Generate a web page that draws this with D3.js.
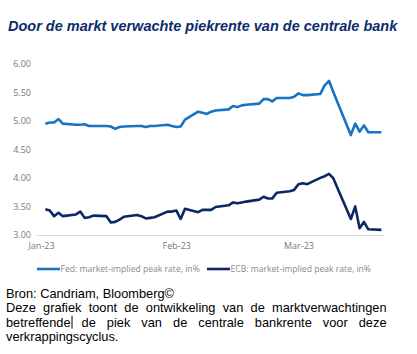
<!DOCTYPE html>
<html>
<head>
<meta charset="utf-8">
<script src="https://cdn.jsdelivr.net/npm/d3@7"></script>
<style>
  html, body { margin: 0; padding: 0; background: #fff; }
  svg { display: block; }
</style>
</head>
<body>
<div id="chart"></div>
<script>
// business days, 2 Jan - 20 Mar 2023
const dates = [
  "2023-01-02","2023-01-03","2023-01-04","2023-01-05","2023-01-06",
  "2023-01-09","2023-01-10","2023-01-11","2023-01-12","2023-01-13",
  "2023-01-16","2023-01-17","2023-01-18","2023-01-19","2023-01-20",
  "2023-01-23","2023-01-24","2023-01-25","2023-01-26","2023-01-27",
  "2023-01-30","2023-01-31","2023-02-01","2023-02-02","2023-02-03",
  "2023-02-06","2023-02-07","2023-02-08","2023-02-09","2023-02-10",
  "2023-02-13","2023-02-14","2023-02-15","2023-02-16","2023-02-17",
  "2023-02-20","2023-02-21","2023-02-22","2023-02-23","2023-02-24",
  "2023-02-27","2023-02-28","2023-03-01","2023-03-02","2023-03-03",
  "2023-03-06","2023-03-07","2023-03-08","2023-03-09","2023-03-10",
  "2023-03-13","2023-03-14","2023-03-15","2023-03-16","2023-03-17",
  "2023-03-20"
];

const fedRate = [
  4.95, 4.97, 4.97, 5.03, 4.95,
  4.93, 4.93, 4.94, 4.91, 4.91,
  4.91, 4.90, 4.86, 4.89, 4.90,
  4.91, 4.91, 4.89, 4.91, 4.91,
  4.93, 4.91, 4.89, 4.90, 5.02,
  5.16, 5.14, 5.12, 5.16, 5.18,
  5.20, 5.26, 5.24, 5.27, 5.28,
  5.30, 5.38, 5.38, 5.34, 5.40,
  5.40, 5.42, 5.48, 5.45, 5.45,
  5.47, 5.62, 5.70, 5.50, 5.31,
  4.75, 4.95, 4.81, 4.92, 4.80,
  4.80
];

const ecbRate = [
  3.45, 3.43, 3.33, 3.39, 3.33,
  3.36, 3.41, 3.30, 3.31, 3.34,
  3.33, 3.22, 3.23, 3.27, 3.32,
  3.35, 3.33, 3.29, 3.30, 3.31,
  3.41, 3.41, 3.43, 3.28, 3.46,
  3.40, 3.44, 3.44, 3.44, 3.49,
  3.52, 3.57, 3.555, 3.57, 3.585,
  3.62, 3.67, 3.64, 3.64, 3.74,
  3.765, 3.79, 3.89, 3.905, 3.89,
  4.00, 4.03, 4.07, 3.99, 3.81,
  3.28, 3.50, 3.12, 3.23, 3.10,
  3.09
];

const yTicks = [3, 3.5, 4, 4.5, 5, 5.5, 6];
const xTicks = ["2023-01-01", "2023-02-01", "2023-03-01"];

const seriesNames = ["Fed: market-implied peak rate, in%", "ECB: market-implied peak rate, in%"];
const seriesColors = ["#1874c1", "#0b2866"];

const title = "Door de markt verwachte piekrente van de centrale bank";
const sourceLine = "Bron: Candriam, Bloomberg©";
const noteLines = [
  "Deze grafiek toont de ontwikkeling van de marktverwachtingen",
  "betreffende de piek van de centrale bankrente voor deze",
  "verkrappingscyclus."
];

const W = 417, H = 354;
const parse = d3.timeParse("%Y-%m-%d");

const svg = d3.select("#chart").append("svg")
  .attr("width", W).attr("height", H)
  .style("font-family", "'Liberation Sans', Arial, sans-serif");

svg.append("rect").attr("width", W).attr("height", H).attr("fill", "#fff");

// title
svg.append("text")
  .attr("x", 8).attr("y", 31)
  .attr("fill", "#0d2c6c")
  .style("font-size", "14.5px")
  .style("font-weight", "bold")
  .style("font-style", "italic")
  .text(title);

// scales
const x = d3.scaleTime()
  .domain([parse("2023-01-01"), parse("2023-03-20")])
  .range([41, 381.4]);

const y = d3.scaleLinear()
  .domain([3, 6])
  .range([235, 63.7]);

const axisFont = "'Open Sans', 'Noto Sans', sans-serif";

// y axis (labels only)
const gy = svg.append("g")
  .attr("transform", "translate(33,0)")
  .call(d3.axisLeft(y).tickValues(yTicks).tickFormat(d3.format(".2f")).tickSize(0).tickPadding(2));
gy.select(".domain").remove();
gy.selectAll("text")
  .attr("fill", "#7a7a7a")
  .style("font-family", axisFont)
  .style("font-size", "9px");

// x axis
const gx = svg.append("g")
  .attr("transform", `translate(0,${y(3)})`)
  .call(d3.axisBottom(x).tickValues(xTicks.map(parse)).tickFormat(d3.timeFormat("%b-%y")).tickSize(0).tickPadding(8));
gx.select(".domain").remove();
gx.selectAll("text")
  .attr("fill", "#7a7a7a")
  .style("font-family", axisFont)
  .style("font-size", "9px");

const half = 12 * 3600 * 1000;
svg.append("line")
  .attr("x1", x(new Date(parse("2023-01-01") - 2 * half)))
  .attr("x2", x(new Date(+parse("2023-03-20") + half)))
  .attr("y1", y(3) + 0.5).attr("y2", y(3) + 0.5)
  .attr("stroke", "#d9d9d9").attr("stroke-width", 1);

// lines
const line = d3.line()
  .x(d => x(d.date))
  .y(d => y(d.v));

[fedRate, ecbRate].forEach((vals, i) => {
  const data = dates.map((d, k) => ({ date: parse(d), v: vals[k] }));
  svg.append("path")
    .datum(data)
    .attr("fill", "none")
    .attr("stroke", seriesColors[i])
    .attr("stroke-width", 2.6)
    .attr("stroke-linejoin", "round")
    .attr("d", line);
});

// legend
const legendItems = [{ x: 37 }, { x: 207 }];
legendItems.forEach((it, i) => {
  const g = svg.append("g").attr("transform", `translate(${it.x},269)`);
  g.append("line")
    .attr("x1", 0).attr("x2", 23).attr("y1", 0).attr("y2", 0)
    .attr("stroke", seriesColors[i]).attr("stroke-width", 2.6);
  g.append("text")
    .attr("x", 23.5).attr("y", 3)
    .attr("fill", "#8a8a8a")
    .style("font-family", axisFont)
    .style("font-size", "8.6px")
    .text(seriesNames[i]);
});

// source and note
const textSize = "12.8px";
svg.append("text")
  .attr("x", 6).attr("y", 297.5)
  .attr("fill", "#000")
  .style("font-size", textSize)
  .text(sourceLine);

// justified lines
const left = 6, right = 386.5, lineY = [312, 326.7, 341.4];
noteLines.forEach((ln, i) => {
  const words = ln.split(" ");
  const justify = i < noteLines.length - 1;
  const tmp = words.map(w => svg.append("text").style("font-size", textSize).text(w));
  const widths = tmp.map(t => t.node().getComputedTextLength());
  tmp.forEach(t => t.remove());
  const total = d3.sum(widths);
  const gap = justify ? (right - left - total) / (words.length - 1) : 3.4;
  let cx = left;
  words.forEach((w, k) => {
    svg.append("text")
      .attr("x", cx).attr("y", lineY[i])
      .attr("fill", "#000")
      .style("font-size", textSize)
      .text(w);
    if (i === 1 && k === 0) {
      // text cursor after "betreffende"
      svg.append("line")
        .attr("x1", cx + widths[k] + 1.5).attr("x2", cx + widths[k] + 1.5)
        .attr("y1", lineY[i] - 11).attr("y2", lineY[i] + 2)
        .attr("stroke", "#000").attr("stroke-width", 1);
    }
    cx += widths[k] + gap;
  });
});
</script>
</body>
</html>
